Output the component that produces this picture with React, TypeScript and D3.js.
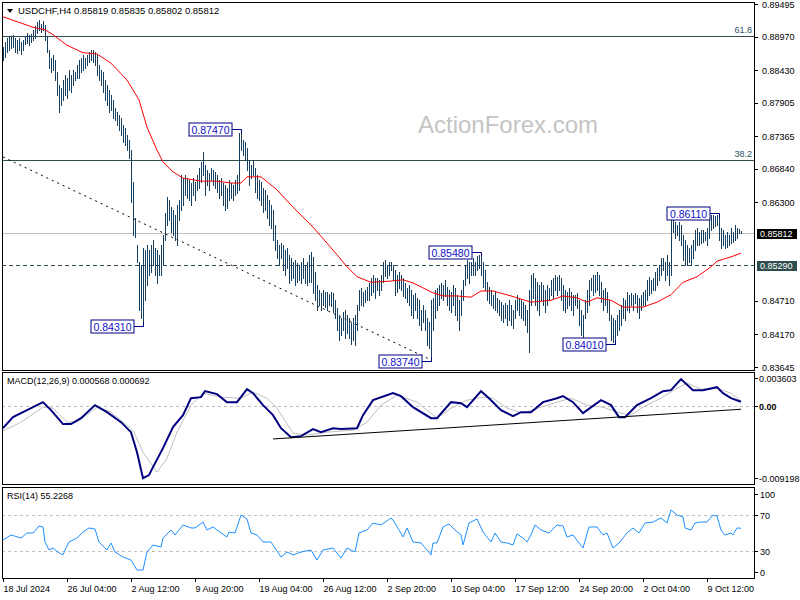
import React from 'react';
import * as d3 from 'd3';

// ---- price bars (H4), values in 1e-4 price units ----
const highs = [
  8880,8888,8895,8898,8896,8900,8895,8892,8895,8888,
  8892,8898,8903,8900,8901,8908,8914,8921,8924,8917,
  8922,8916,8898,8875,8863,8867,8859,8840,8819,8814,
  8827,8835,8830,8843,8835,8843,8840,8851,8859,8863,
  8867,8863,8867,8872,8875,8875,8872,8867,8851,8843,
  8840,8827,8819,8811,8803,8795,8782,8776,8771,8766,
  8755,8750,8738,8730,8714,8663,8605,8561,8534,8529,
  8556,8553,8561,8553,8561,8569,8556,8553,8545,8561,
  8577,8613,8638,8634,8622,8618,8609,8626,8634,8674,
  8669,8674,8669,8666,8661,8669,8663,8674,8685,8695,
  8711,8690,8682,8677,8685,8682,8679,8674,8666,8669,
  8661,8658,8653,8666,8661,8658,8666,8674,8742,8747,
  8730,8727,8718,8698,8690,8698,8685,8674,8666,8663,
  8653,8650,8642,8634,8626,8618,8593,8569,8561,8564,
  8561,8553,8556,8545,8540,8534,8537,8532,8529,8534,
  8540,8529,8534,8545,8550,8542,8518,8497,8489,8484,
  8489,8485,8485,8482,8485,8484,8473,8460,8448,8444,
  8453,8456,8448,8444,8435,8444,8448,8465,8489,8492,
  8485,8489,8494,8500,8508,8513,8508,8508,8505,8513,
  8534,8537,8529,8534,8534,8529,8521,8513,8518,8513,
  8508,8500,8492,8497,8489,8481,8484,8476,8473,8456,
  8465,8456,8444,8437,8473,8476,8489,8492,8497,8500,
  8497,8505,8494,8489,8485,8497,8492,8481,8473,8489,
  8505,8529,8537,8534,8534,8540,8534,8543,8545,8548,
  8534,8521,8502,8494,8489,8481,8485,8476,8473,8469,
  8465,8468,8465,8473,8465,8456,8473,8481,8476,8473,
  8469,8465,8456,8489,8513,8516,8508,8502,8497,8502,
  8497,8489,8497,8492,8505,8508,8513,8510,8513,8508,
  8497,8489,8485,8492,8485,8481,8481,8484,8473,8456,
  8448,8473,8489,8505,8508,8513,8513,8518,8513,8502,
  8489,8492,8485,8473,8448,8444,8440,8448,8456,8465,
  8476,8473,8485,8481,8484,8481,8484,8481,8476,8481,
  8485,8489,8505,8510,8505,8508,8518,8524,8529,8540,
  8540,8534,8545,8534,8601,8605,8598,8593,8598,8593,
  8577,8569,8561,8556,8561,8569,8585,8589,8582,8585,
  8585,8582,8589,8601,8610,8610,8608,8610,8611,8589,
  8585,8577,8582,8577,8589,8582,8593,8589,8587,8584,
];
const lows = [
  8859,8864,8872,8875,8879,8880,8872,8871,8875,8869,
  8875,8885,8887,8884,8888,8892,8895,8903,8908,8904,
  8908,8892,8872,8846,8840,8843,8827,8803,8776,8787,
  8795,8803,8798,8811,8808,8819,8827,8830,8830,8840,
  8843,8846,8851,8856,8859,8856,8851,8835,8827,8819,
  8808,8795,8787,8776,8779,8766,8763,8755,8746,8738,
  8727,8722,8714,8701,8630,8577,8574,8534,8456,8443,
  8431,8472,8497,8513,8518,8529,8513,8500,8513,8513,
  8529,8569,8593,8601,8582,8577,8569,8561,8601,8618,
  8626,8642,8637,8634,8626,8642,8634,8650,8653,8663,
  8674,8642,8658,8650,8666,8658,8653,8647,8637,8642,
  8626,8618,8621,8634,8637,8634,8642,8645,8650,8714,
  8706,8698,8682,8658,8669,8674,8647,8637,8634,8626,
  8614,8618,8605,8593,8589,8569,8553,8540,8529,8540,
  8521,8513,8524,8500,8505,8508,8497,8502,8505,8500,
  8508,8500,8497,8502,8502,8484,8473,8456,8465,8456,
  8465,8461,8456,8465,8463,8453,8444,8424,8408,8416,
  8424,8411,8419,8411,8402,8408,8400,8424,8456,8465,
  8463,8469,8473,8473,8481,8485,8476,8489,8481,8489,
  8502,8511,8508,8513,8521,8505,8481,8485,8492,8489,
  8479,8476,8469,8465,8448,8444,8456,8444,8432,8424,
  8437,8424,8400,8395,8374,8424,8444,8456,8465,8476,
  8473,8479,8465,8456,8453,8465,8448,8440,8424,8448,
  8473,8497,8508,8500,8513,8513,8513,8521,8524,8513,
  8493,8489,8473,8468,8465,8460,8456,8453,8448,8440,
  8437,8444,8432,8440,8432,8427,8444,8456,8448,8444,
  8440,8432,8421,8389,8465,8476,8465,8456,8448,8473,
  8465,8453,8465,8473,8481,8476,8489,8481,8489,8473,
  8456,8453,8460,8465,8456,8448,8465,8460,8432,8416,
  8411,8444,8453,8465,8489,8481,8485,8489,8481,8469,
  8456,8465,8453,8440,8408,8405,8401,8416,8424,8432,
  8444,8440,8456,8453,8465,8456,8468,8453,8444,8456,
  8465,8465,8473,8481,8484,8489,8489,8497,8505,8513,
  8521,8505,8513,8497,8513,8582,8572,8577,8569,8561,
  8537,8529,8529,8534,8529,8540,8553,8561,8561,8564,
  8566,8569,8561,8572,8585,8589,8592,8593,8569,8556,
  8561,8556,8558,8561,8564,8566,8569,8572,8580,8580,
];

// ---- moving average (red) ----
const maBars = [0,15,21,25,32,40,47,54,62,68,72,77,80,85,90,99,107,114,119,122,129,137,145,155,165,172,177,184,194,200,205,210,215,220,227,234,239,245,254,264,274,280,287,292,297,304,310,320,327,334,340,347,354,357,364,369];
const maValues = [8929,8912,8908,8900,8883,8871,8869,8854,8827,8795,8751,8714,8695,8679,8669,8664,8664,8661,8661,8671,8671,8650,8622,8590,8553,8526,8510,8501,8503,8505,8500,8492,8484,8479,8479,8477,8487,8487,8479,8469,8472,8479,8476,8469,8476,8472,8461,8461,8469,8481,8501,8510,8526,8535,8542,8548];

// ---- MACD ----
const macdBars = [0,5,10,15,20,24,30,34,39,46,52,59,64,67,70,73,75,80,85,90,94,99,101,107,112,117,122,125,130,135,139,144,149,155,159,165,169,177,180,185,195,199,205,214,217,224,229,232,239,243,249,255,259,264,270,277,280,285,290,299,304,308,311,317,324,330,334,339,345,350,357,360,364,369];
const macdValues = [-0.00282,-0.00141,-0.00077,-0.00013,0.00051,-0.00051,-0.0023,-0.0023,-0.00154,0.00013,-0.00077,-0.00205,-0.00333,-0.00589,-0.00922,-0.00883,-0.00781,-0.00538,-0.00269,-0.00115,0.00102,0.00115,0.00192,0.00154,0.00051,0.00051,0.00218,0.00166,0.00013,-0.00115,-0.00282,-0.00397,-0.00384,-0.00294,-0.00333,-0.00282,-0.00294,-0.00282,-0.00115,0.00077,0.00166,0.00128,-0.00013,-0.00154,-0.00154,0.00051,0.00038,-0.00013,0.00192,0.00102,-0.00051,-0.00128,-0.00077,-0.00077,0.00051,0.00102,0.00128,0.00051,-0.0009,0.00077,0.00013,-0.00141,-0.00141,0.00013,0.00102,0.00192,0.00205,0.00346,0.00205,0.00205,0.00243,0.00166,0.00102,0.000568];
const signalBars = [0,9,20,25,32,37,47,54,65,70,77,82,87,94,100,109,119,125,132,137,145,152,162,175,182,189,197,207,217,224,232,240,245,252,260,269,277,284,292,300,307,314,320,329,337,342,349,357,364,369];
const signalValues = [-0.0032,-0.00205,-0.00013,-0.00026,-0.00205,-0.00205,-0.00013,-0.00077,-0.00307,-0.00589,-0.00845,-0.00666,-0.00333,0.00013,0.00166,0.00115,0.00102,0.00179,0.00102,-0.00026,-0.00346,-0.00371,-0.00333,-0.00307,-0.00205,0.00013,0.00141,0.00051,-0.00154,-0.00026,0.00077,0.00115,0.00102,-0.00026,-0.0009,-0.00013,0.00051,0.00102,0.00013,-0.00013,-0.00077,-0.00115,-0.00013,0.00102,0.0023,0.00294,0.00218,0.0023,0.00166,0.000692];

// ---- RSI(14) ----
const rsiBars = [0,4,9,12,15,18,20,21,23,25,28,30,31,33,37,40,43,46,48,52,54,56,60,64,67,70,72,75,79,80,84,86,90,94,96,100,102,105,109,112,113,116,119,122,124,127,130,134,139,142,145,149,154,157,160,165,169,172,176,178,182,185,189,194,195,198,200,202,205,209,212,214,215,217,220,223,226,229,230,233,237,240,244,246,249,252,255,257,260,262,264,266,269,273,277,280,282,285,288,290,293,297,300,302,305,308,312,315,318,321,325,329,332,334,337,340,341,344,346,349,352,355,357,359,361,364,365,367,369];
const rsiValues = [42.2,47.8,44.4,50,50,57.8,56.7,40,31.1,33.3,27.8,25.6,31.1,40,44.4,51.1,55.6,54.4,40,31.1,38.9,28.9,23.3,20,8.9,8.9,28.9,36.7,34.4,44.4,53.3,47.8,58.9,55.6,55.6,62.2,53.3,56.7,50,45.6,51.1,50,70,65.6,50,47.8,40,40,23.3,28.9,25.6,28.9,31.1,20,31.1,33.3,22.2,33.3,28.9,50,53.3,61.1,58.9,66.7,64.4,53.3,45.6,55.6,40,38.9,31.1,25.6,38.9,38.9,56.7,60,53.3,47.8,36.7,61.1,65.6,51.1,40,50,40,38.9,36.7,48.9,44.4,40,47.8,58.9,53.3,50,58.9,57.8,45.6,47.8,38.9,33.3,56.7,56.7,47.8,50,33.3,38.9,50,55.6,50,61.1,62.2,66.7,61.1,75.6,70,67.8,55.6,53.3,61.1,62.2,62.2,70,68.9,53.3,47.8,50,47.8,55.6,55.2];

// ---- axes / annotations ----
// 0.85775 and 0.85235 ticks are hidden behind the price boxes in the reference
const priceTicks = [0.89495,0.8897,0.8843,0.87905,0.87365,0.8684,0.863,0.8471,0.8417,0.83645];
const timeBars = [0,32,64,96,128,160,192,224,256,288,320,352];
const timeLabels = ['18 Jul 2024','26 Jul 04:00','2 Aug 12:00','9 Aug 20:00','19 Aug 04:00','26 Aug 12:00','2 Sep 20:00','10 Sep 04:00','17 Sep 12:00','24 Sep 20:00','2 Oct 04:00','9 Oct 12:00'];
const macdTicks = [0.003603,0,-0.009198];
const macdTickLabels = ['0.003603','0.00','-0.009198'];
const rsiTicks = [100,70,30,0];
const fibLevels = [0.8898,0.8698];
const fibNames = ['61.8','38.2'];
const annBars = [119,70,214,239,306,358];
const annPrices = [0.8747,0.8431,0.8374,0.8548,0.8401,0.8611];
const annIsHigh = [true,false,false,true,false,true];
const trendBars = [0,214];
const trendPrices = [0.8703,0.8376];
const macdTrendBars = [135,369];
const macdTrendValues = [-0.0042,-0.0004];
const lastPrice = 0.85812;
const supportPrice = 0.8529;

const FONT = '"Liberation Sans", Arial, sans-serif';
const BAR = '#173f5f';

export default function App() {
  const L = 2, R = 754;
  const mainTop = 2, mainBot = 370, macdTop = 372, macdBot = 484, rsiTop = 487, rsiBot = 578;
  const x = d3.scaleLinear().domain([0, 369]).range([3, 741]);
  const y = d3.scaleLinear().domain([0.83645, 0.89495]).range([367, 4]);
  const ym = d3.scaleLinear().domain([-0.009198, 0.003603]).range([478, 378]);
  const yr = d3.scaleLinear().domain([0, 100]).range([578, 488]);
  const px = (i: number) => Math.round(x(i)) + 0.5;

  const maLine = d3.line<number>().x((d, k) => x(maBars[k])).y(d => y(d / 1e4))(maValues) || '';
  const macdLine = d3.line<number>().x((d, k) => x(macdBars[k])).y(d => ym(d))(macdValues) || '';
  const sigLine = d3.line<number>().x((d, k) => x(signalBars[k])).y(d => ym(d))(signalValues) || '';
  const rsiLine = d3.line<number>().x((d, k) => x(rsiBars[k])).y(d => yr(d))(rsiValues) || '';

  const txt = { fontFamily: FONT, fontSize: 9 } as const;

  return (
    <svg width={800} height={600} style={{ position: 'absolute', left: 0, top: 0, background: '#fff' }}>
      <defs>
        <clipPath id="cm"><rect x={L} y={mainTop} width={R - L} height={mainBot - mainTop} /></clipPath>
        <clipPath id="cd"><rect x={L} y={macdTop} width={R - L} height={macdBot - macdTop} /></clipPath>
        <clipPath id="cr"><rect x={L} y={rsiTop} width={R - L} height={rsiBot - rsiTop} /></clipPath>
      </defs>
      <rect x={0} y={0} width={800} height={600} fill="#fff" />

      {/* watermark */}
      <text x={418} y={133} fontFamily={FONT} fontSize={24} fill="#c4c4c4">ActionForex.com</text>

      <g clipPath="url(#cm)">
        {fibLevels.map((f, k) => (
          <g key={k}>
            <line x1={L} x2={R} y1={Math.round(y(f)) + 0.5} y2={Math.round(y(f)) + 0.5} stroke="#2f4f4f" />
            <text x={752} y={Math.round(y(f)) - 3} textAnchor="end" {...txt} fill="#2f4f5f">{fibNames[k]}</text>
          </g>
        ))}
        <line x1={L} x2={R} y1={Math.round(y(lastPrice)) + 0.5} y2={Math.round(y(lastPrice)) + 0.5} stroke="#c0c0c0" />
        <line x1={L} x2={R} y1={Math.round(y(supportPrice)) + 0.5} y2={Math.round(y(supportPrice)) + 0.5} stroke="#2f4f4f" strokeDasharray="4,3" />
        <line x1={x(trendBars[0])} y1={y(trendPrices[0])} x2={x(trendBars[1])} y2={y(trendPrices[1])} stroke="#000" strokeDasharray="2,4" />
        <g stroke={BAR} shapeRendering="crispEdges">
          {highs.map((h, i) => (
            <line key={i} x1={px(i)} x2={px(i)} y1={Math.round(y(h / 1e4))} y2={Math.round(y(lows[i] / 1e4)) + 1} />
          ))}
        </g>
        <path d={maLine} fill="none" stroke="#ff0000" strokeWidth={1} />
        {annBars.map((b, k) => {
          const bx = px(b);
          const cy = Math.round(y(annPrices[k])) + (annIsHigh[k] ? -0.5 : 0.5);
          const w = 43, h = 13;
          const bx1 = bx - 10;
          return (
            <g key={k}>
              <line x1={bx1} x2={bx} y1={cy} y2={cy} stroke="#000080" />
              <line x1={bx} x2={bx} y1={cy} y2={annIsHigh[k] ? cy + 4 : cy - 4} stroke="#000080" />
              <rect x={bx1 - w + 0.5} y={cy - h / 2} width={w} height={h} fill="#fff" stroke="#000080" />
              <text x={bx1 - w / 2 + 0.5} y={cy + 4} textAnchor="middle" fontFamily={FONT} fontSize={10.5} fill="#1010c8">{annPrices[k].toFixed(5)}</text>
            </g>
          );
        })}
      </g>

      {/* title */}
      <polygon points="7,9 13,9 10,13" fill="#000" />
      <text x={18} y={14} fontFamily={FONT} fontSize={9.5} fill="#000">USDCHF,H4  0.85819 0.85835 0.85802 0.85812</text>

      {/* MACD panel */}
      <g clipPath="url(#cd)">
        <line x1={L} x2={R} y1={Math.round(ym(0)) + 0.5} y2={Math.round(ym(0)) + 0.5} stroke="#c0c0c0" strokeDasharray="3,3" />
        <path d={sigLine} fill="none" stroke="#c0c0c0" strokeWidth={1} />
        <path d={macdLine} fill="none" stroke="#000080" strokeWidth={2} />
        <line x1={x(macdTrendBars[0])} y1={ym(macdTrendValues[0])} x2={x(macdTrendBars[1])} y2={ym(macdTrendValues[1])} stroke="#000" />
      </g>
      <text x={7} y={384} {...txt} fill="#000">MACD(12,26,9) 0.000568 0.000692</text>

      {/* RSI panel */}
      <g clipPath="url(#cr)">
        {[70, 30].map(v => (
          <line key={v} x1={L} x2={R} y1={Math.round(yr(v)) + 0.5} y2={Math.round(yr(v)) + 0.5} stroke="#c0c0c0" strokeDasharray="3,3" />
        ))}
        <path d={rsiLine} fill="none" stroke="#1e90ff" strokeWidth={1} />
      </g>
      <text x={7} y={499} {...txt} fill="#000">RSI(14) 55.2268</text>

      {/* frames */}
      <g fill="none" stroke="#000" shapeRendering="crispEdges">
        <rect x={L + 0.5} y={mainTop + 0.5} width={R - L} height={mainBot - mainTop} />
        <rect x={L + 0.5} y={macdTop + 0.5} width={R - L} height={macdBot - macdTop} />
        <rect x={L + 0.5} y={rsiTop + 0.5} width={R - L} height={rsiBot - rsiTop} />
      </g>

      {/* price axis */}
      {priceTicks.map((p, k) => (
        <g key={k}>
          <line x1={R} x2={R + 4} y1={Math.round(y(p)) + 0.5} y2={Math.round(y(p)) + 0.5} stroke="#000" />
          <text x={762} y={y(p) + 3.5} {...txt} fill="#000">{p.toFixed(5)}</text>
        </g>
      ))}
      <rect x={757} y={Math.round(y(lastPrice)) - 4} width={40} height={10} fill="#000" />
      <text x={760} y={Math.round(y(lastPrice)) + 4} {...txt} fill="#fff">{lastPrice.toFixed(5)}</text>
      <rect x={757} y={Math.round(y(supportPrice)) - 4} width={40} height={10} fill="#2f4f4f" />
      <text x={760} y={Math.round(y(supportPrice)) + 4} {...txt} fill="#fff">{supportPrice.toFixed(5)}</text>

      {/* MACD axis */}
      {macdTicks.map((v, k) => (
        <g key={k}>
          <line x1={R} x2={R + 4} y1={Math.round(ym(v)) + 0.5} y2={Math.round(ym(v)) + 0.5} stroke="#000" />
          <text x={759} y={ym(v) + 3.5} {...txt} fill="#000" fontWeight={v === 0 ? 'bold' : 'normal'}>{macdTickLabels[k]}</text>
        </g>
      ))}

      {/* RSI axis */}
      {rsiTicks.map(v => {
        const yy = Math.min(Math.max(yr(v), rsiTop + 7), rsiBot - 6);
        return (
          <g key={v}>
            <line x1={R} x2={R + 4} y1={Math.round(yy) + 0.5} y2={Math.round(yy) + 0.5} stroke="#000" />
            <text x={760} y={yy + 3.5} {...txt} fill="#000">{v}</text>
          </g>
        );
      })}

      {/* time axis */}
      {timeBars.map((b, k) => (
        <g key={k}>
          <line x1={px(b)} x2={px(b)} y1={rsiBot} y2={rsiBot + 4} stroke="#000" />
          <text x={px(b)} y={592} {...txt} fill="#000">{timeLabels[k]}</text>
        </g>
      ))}
    </svg>
  );
}
